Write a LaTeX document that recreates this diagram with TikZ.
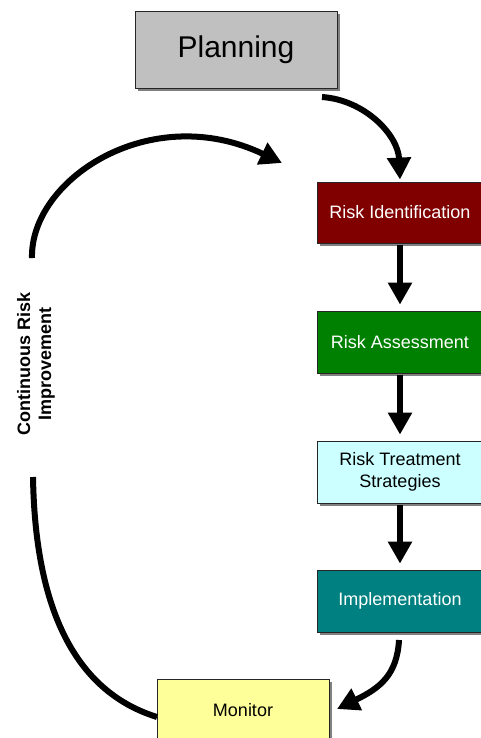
\documentclass[tikz,border=0pt]{standalone}
\usepackage{fontspec}
\setmainfont{Liberation Sans}
\usetikzlibrary{arrows.meta,shadows}
\definecolor{planc}{HTML}{C0C0C0}
\definecolor{idc}{HTML}{800000}
\definecolor{assc}{HTML}{008000}
\definecolor{trc}{HTML}{CCFFFF}
\definecolor{impc}{HTML}{008080}
\definecolor{monc}{HTML}{FFFF99}
\definecolor{shadc}{HTML}{808080}
\tikzset{
  box/.style={draw=black!85, line width=0.8pt, inner sep=0pt, align=center,
    font=\fontsize{18}{22}\selectfont,
    drop shadow={shadow xshift=3pt, shadow yshift=-3pt, fill=shadc, opacity=1}},
  arr/.style={line width=6pt, -{Triangle[width=23pt,length=22pt]}},
}
\begin{document}
\begin{tikzpicture}[x=1pt,y=-1pt]
\useasboundingbox (0,0) rectangle (481,738);
\clip (0,0) rectangle (481,738);
\node[box, fill=planc, minimum width=202pt, minimum height=77pt, font=\fontsize{30}{34}\selectfont] (plan) at (236,49.5) {Planning};
\node[box, fill=idc, text=white, minimum width=166pt, minimum height=61pt] (ri) at (400,212.5) {Risk Identification};
\node[box, fill=assc, text=white, minimum width=166pt, minimum height=62pt] (ra) at (400,342) {Risk Assessment};
\node[box, fill=trc, minimum width=166pt, minimum height=62pt] (rt) at (400,472) {Risk Treatment\\Strategies};
\node[box, fill=impc, text=white, minimum width=166pt, minimum height=62pt] (im) at (400,601) {Implementation};
\node[box, fill=monc, minimum width=172pt, minimum height=62pt] (mon) at (243,710) {Monitor};
\node[rotate=90, align=center, font=\bfseries\fontsize{18}{21}\selectfont] (cri) at (36,364) {Continuous Risk\\Improvement};
\coordinate (pstart) at (322,97);
\coordinate (ltop) at (32,258);
\coordinate (ltip) at (282,163);
\coordinate (lbot) at (33,477);
\coordinate (iend) at (399,640);
\coordinate (mtip) at (337,709);
\coordinate (mleft) at (157,717);
\draw[arr] (pstart) .. controls (365,100) and (398,135) .. ([yshift=2pt]ri.north);
\draw[arr] ([yshift=-2pt]ri.south) -- ([yshift=6pt]ra.north);
\draw[arr] ([yshift=-2pt]ra.south) -- ([yshift=6pt]rt.north);
\draw[arr] ([yshift=-2pt]rt.south) -- ([yshift=6pt]im.north);
\draw[arr] (iend) .. controls (397,675) and (380,688) .. (mtip);
\draw[arr] (ltop) .. controls (30,180) and (150,100) .. (ltip);
\draw[line width=6pt] (lbot) .. controls (35,600) and (70,690) .. (mleft);
\end{tikzpicture}
\end{document}
